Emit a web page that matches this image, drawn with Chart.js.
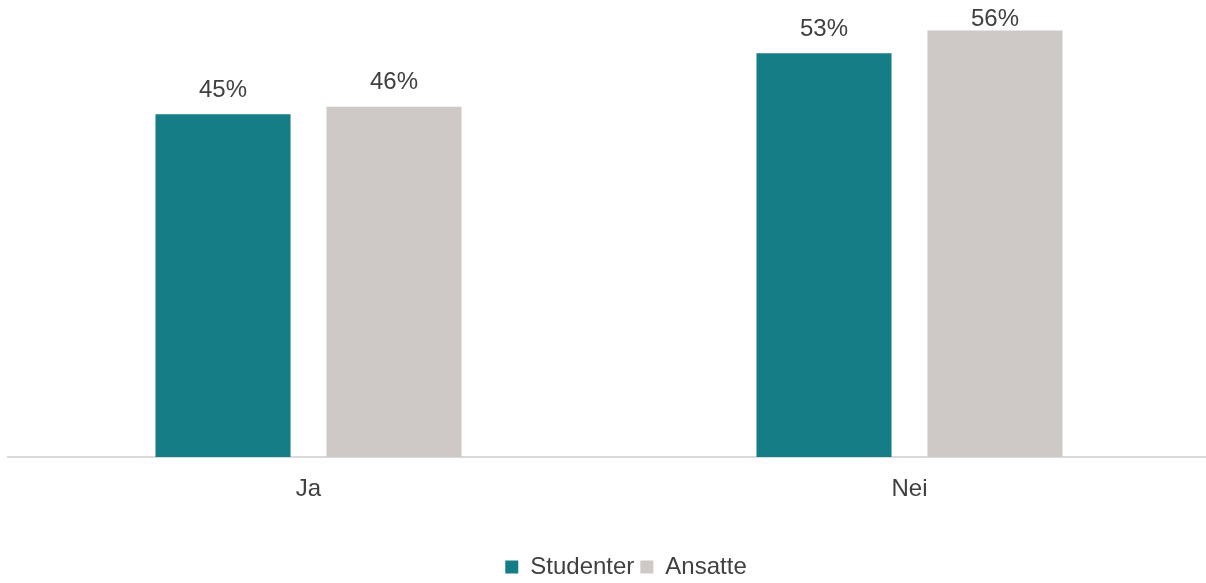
<!DOCTYPE html>
<html lang="no">
<head>
  <meta charset="UTF-8" />
  <title>Studenter og ansatte</title>
  <script src="https://cdn.jsdelivr.net/npm/chart.js"></script>
  <style>
    html, body {
      margin: 0;
      padding: 0;
      background: #ffffff;
      overflow: hidden;
    }
    .chart-box {
      width: 1210px;
      height: 583px;
    }
  </style>
</head>
<body>
  <div class="chart-box">
    <canvas id="svarChart"></canvas>
  </div>

  <script>
    const kategorier = ["Ja", "Nei"];
    const studenter = [45, 53];
    const ansatte = [46, 56];

    const tekstFarge = "#404040";
    const skrift = "'Liberation Sans', Arial, sans-serif";

    // prosent over hver stolpe
    const verdiEtiketter = {
      id: "verdiEtiketter",
      afterDatasetsDraw(chart) {
        const ctx = chart.ctx;
        ctx.save();
        ctx.font = "24px " + skrift;
        ctx.fillStyle = tekstFarge;
        ctx.textAlign = "center";
        ctx.textBaseline = "middle";
        chart.data.datasets.forEach((ds, i) => {
          chart.getDatasetMeta(i).data.forEach((bar, j) => {
            const y = Math.max(bar.y - 24, 19);
            ctx.fillText(ds.data[j] + "%", bar.x, y);
          });
        });
        ctx.restore();
      }
    };

    // legenden sitter litt til høyre for midten i originalen
    const flyttLegende = {
      id: "flyttLegende",
      afterLayout(chart) {
        chart.legend.left += 17;
        chart.legend.right += 17;
      }
    };

    new Chart(document.getElementById("svarChart"), {
      type: "bar",
      data: {
        labels: kategorier,
        datasets: [
          {
            label: "Studenter",
            data: studenter,
            backgroundColor: "#147D85",
            categoryPercentage: 0.569,
            barPercentage: 0.79
          },
          {
            label: "Ansatte",
            data: ansatte,
            backgroundColor: "#CEC9C6",
            categoryPercentage: 0.569,
            barPercentage: 0.79
          }
        ]
      },
      options: {
        responsive: true,
        maintainAspectRatio: false,
        animation: false,
        layout: {
          padding: { left: 8, right: 0, top: 0, bottom: -6 }
        },
        plugins: {
          tooltip: { enabled: false },
          legend: {
            position: "bottom",
            labels: {
              boxWidth: 13,
              boxHeight: 13,
              padding: 6,
              color: tekstFarge,
              font: { family: skrift, size: 24 }
            }
          }
        },
        scales: {
          x: {
            grid: { display: false, drawTicks: false },
            border: { color: "#D9D9D9", width: 2 },
            ticks: {
              color: tekstFarge,
              padding: 18,
              font: { family: skrift, size: 24 }
            },
            afterFit: scale => { scale.height = 92; }
          },
          y: {
            display: false,
            min: 0,
            max: 60
          }
        }
      },
      plugins: [verdiEtiketter, flyttLegende]
    });
  </script>
</body>
</html>
